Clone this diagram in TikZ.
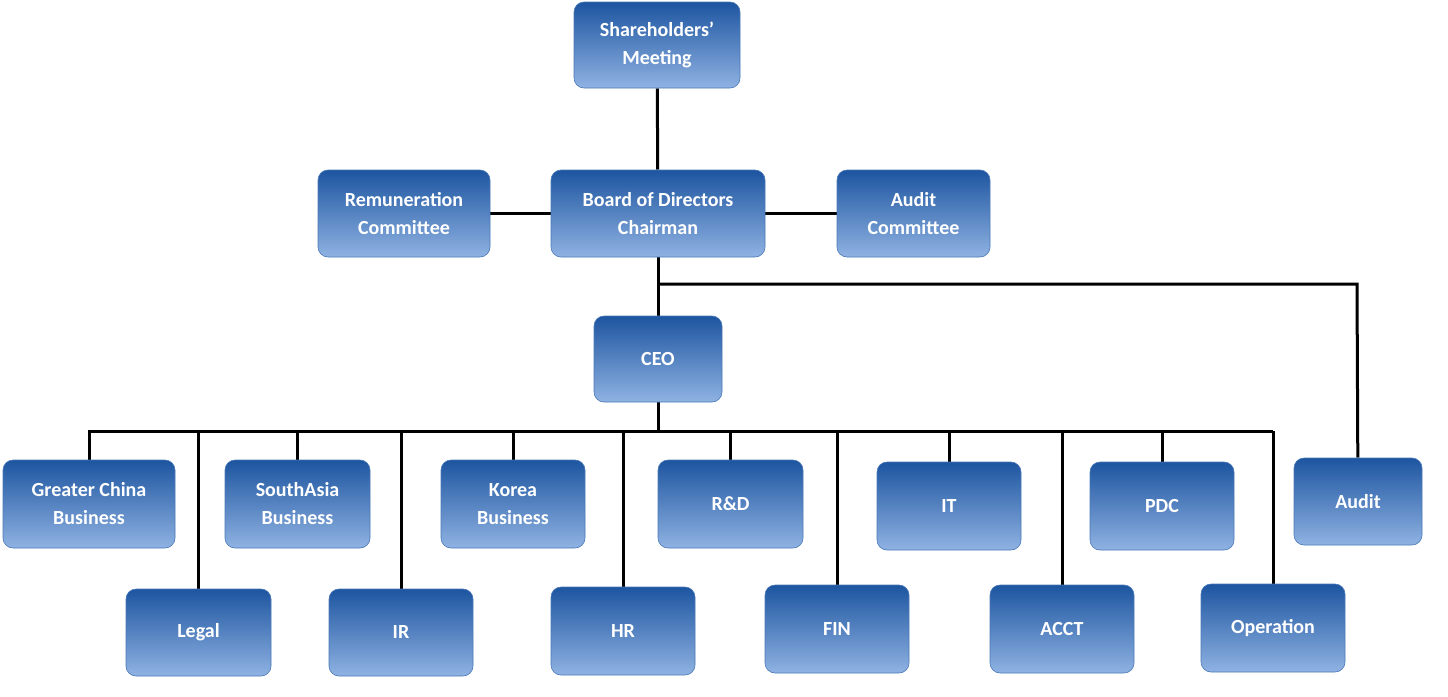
\documentclass[tikz,border=0pt]{standalone}
\usepackage{fontspec}
\setmainfont{Carlito}
\usetikzlibrary{backgrounds}
\definecolor{btop}{HTML}{1D55A0}
\definecolor{bbot}{HTML}{8FB2E2}
\definecolor{bedge}{HTML}{4A78B8}
\tikzset{
 x=1pt,y=-1pt,
 box/.style={rounded corners=10pt,top color=btop,bottom color=bbot,draw=bedge,line width=0.6pt,
   text=white,font=\fontsize{20}{28}\selectfont\bfseries,align=center,inner sep=0pt},
 conn/.style={line width=3pt,black}
}
\newcommand{\bx}[6]{\node[box,minimum width=#4-#2,minimum height=#5-#3] (#1) at ({(#2+#4)/2},{(#3+#5)/2}) {#6};}
\begin{document}
\begin{tikzpicture}
\useasboundingbox (0,0) rectangle (1448,696);
\bx{sh}{574}{2}{740}{88}{Shareholders’\\Meeting}
\bx{rem}{318}{170}{490}{257}{Remuneration\\Committee}
\bx{bod}{551}{170}{765}{257}{Board of Directors\\Chairman}
\bx{ac}{837}{170}{990}{257}{Audit\\Committee}
\bx{ceo}{594}{316}{722}{402}{CEO}
\bx{gc}{3}{460}{175}{548}{Greater China\\Business}
\bx{sa}{225}{460}{370}{548}{SouthAsia\\Business}
\bx{ko}{441}{460}{585}{548}{Korea\\Business}
\bx{rd}{658}{460}{803}{548}{R\&D}
\bx{it}{877}{462}{1021}{550}{IT}
\bx{pdc}{1090}{462}{1234}{550}{PDC}
\bx{aud}{1294}{458}{1422}{545}{Audit}
\bx{leg}{126}{589}{271}{676}{Legal}
\bx{ir}{329}{589}{473}{676}{IR}
\bx{hr}{551}{587}{695}{675}{HR}
\bx{fin}{765}{585}{909}{673}{FIN}
\bx{acct}{990}{585}{1134}{673}{ACCT}
\bx{op}{1201}{584}{1345}{672}{Operation}
\coordinate (ar) at (1357,284);
\coordinate (busL) at (88,431);
\coordinate (busR) at (1273,431);
\begin{scope}[on background layer]
\draw[conn] (sh) -- (bod);
\draw[conn] (rem) -- (ac);
\draw[conn] (bod) -- (ceo);
\draw[conn] (bod.south |- ar) -- (ar) -- (aud);
\draw[conn] (ceo) -- (ceo |- busL);
\draw[conn] (busL) -- (busR);
\foreach \n in {gc,sa,ko,rd,it,pdc,leg,ir,hr,fin,acct,op}
  \draw[conn] (\n.center |- busL) -- (\n);
\end{scope}
\end{tikzpicture}
\end{document}
